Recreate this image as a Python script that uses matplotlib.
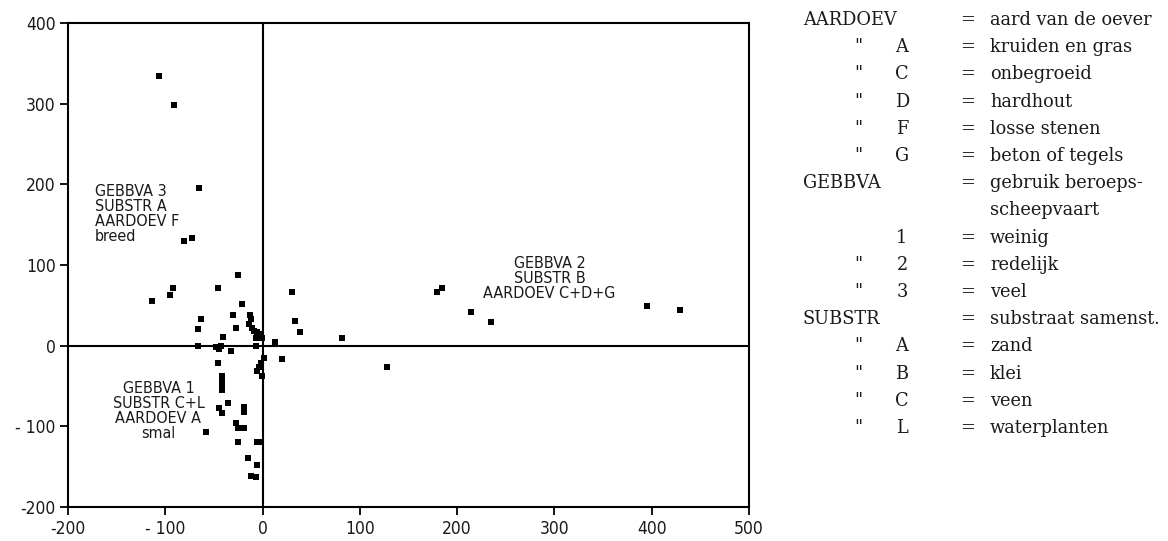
import matplotlib.pyplot as plt

# ordination scores of the sampled sites
x_scores = [-106, -91, -65, -81, -73,
            -114, -95, -92, -25, -46, 30, -21, -30,
            -13, -12, -14, -11, -9, -6, -4,
            -63, -66, -27, 33, 38, -7, -1, -41, 13,
            -66, -48, -43, -45, -7, -32,
            1, -2, -4, -6, 20, -46, -1,
            82, 128, 179, 184, 214, 235, 395, 429,
            -42, -42, -42, -42, -36, -45, -42, -19, -19,
            -58, -27, -25, -19, -25, -6, -3, -15, -6, -12, -7]
y_scores = [334, 298, 196, 130, 134,
            55, 63, 71, 88, 71, 67, 52, 38,
            38, 33, 27, 22, 18, 17, 15,
            33, 21, 22, 31, 17, 9, 10, 11, 4,
            0, -2, 0, -4, -1, -7,
            -15, -21, -27, -31, -17, -21, -38,
            9, -27, 67, 71, 42, 29, 49, 44,
            -37, -43, -49, -55, -71, -77, -83, -76, -82,
            -107, -96, -102, -102, -119, -120, -119, -139, -148, -162, -163]

x_ticks = [-200, -100, 0, 100, 200, 300, 400, 500]
x_ticklabels = ["-200", "- 100", "0", "100", "200", "300", "400", "500"]
y_ticks = [-200, -100, 0, 100, 200, 300, 400]
y_ticklabels = ["-200", "- 100", "0", "100", "200", "300", "400"]

# group labels inside the plot
groups = [
    ("GEBBVA 3\nSUBSTR A\nAARDOEV F\nbreed", -172, 200, "left"),
    ("GEBBVA 1\nSUBSTR C+L\nAARDOEV A\nsmal", -107, -44, "center"),
    ("GEBBVA 2\nSUBSTR B\nAARDOEV C+D+G", 295, 111, "center"),
]

# code list shown to the right of the plot
key_names = ["AARDOEV", "", "", "", "", "", "GEBBVA", "", "", "", "",
             "SUBSTR", "", "", "", ""]
key_ditto = ["", '"', '"', '"', '"', '"', "", "", "", '"', '"',
             "", '"', '"', '"', '"']
key_codes = ["", "A", "C", "D", "F", "G", "", "", "1", "2", "3",
             "", "A", "B", "C", "L"]
key_equals = ["=", "=", "=", "=", "=", "=", "=", "", "=", "=", "=",
              "=", "=", "=", "=", "="]
key_text = ["aard van de oever", "kruiden en gras", "onbegroeid", "hardhout",
            "losse stenen", "beton of tegels", "gebruik beroeps-",
            "scheepvaart", "weinig", "redelijk", "veel",
            "substraat samenst.", "zand", "klei", "veen", "waterplanten"]

W, H = 1168, 541
narrow = ["Liberation Sans Narrow", "DejaVu Sans"]

fig = plt.figure(figsize=(W / 100, H / 100), dpi=100)
ax = fig.add_axes([68 / W, 1 - 507 / H, 681 / W, 484 / H])

ax.scatter(x_scores, y_scores, marker="s", s=22, color="black",
           linewidths=0, zorder=3)
ax.axhline(0, color="black", lw=1.5, zorder=2)
ax.axvline(0, color="black", lw=1.5, zorder=2)

for label, gx, gy, ha in groups:
    ax.text(gx, gy, label, ha=ha, va="top", fontsize=11.5,
            family=narrow, stretch="condensed", linespacing=1.0,
            color="#1a1a1a")

ax.set_xlim(-200, 500)
ax.set_ylim(-200, 400)
ax.set_xticks(x_ticks)
ax.set_xticklabels(x_ticklabels)
ax.set_yticks(y_ticks)
ax.set_yticklabels(y_ticklabels)
ax.tick_params(direction="out", length=6, width=1.3, pad=3,
               labelsize=12.5, colors="black")
for lab in ax.get_xticklabels() + ax.get_yticklabels():
    lab.set_family(narrow)
    lab.set_stretch("condensed")
    lab.set_color("#1a1a1a")
for sp in ax.spines.values():
    sp.set_linewidth(1.5)

# code list columns
row_y0, row_dy = 20, 27.2
for i in range(len(key_text)):
    yy = 1 - (row_y0 + i * row_dy) / H
    kw = dict(va="center", fontsize=12.8, family="DejaVu Serif",
              color="#1a1a1a")
    if key_names[i]:
        fig.text(803 / W, yy, key_names[i], ha="left", **kw)
    if key_ditto[i]:
        fig.text(858 / W, yy, key_ditto[i], ha="center", **kw)
    if key_codes[i]:
        fig.text(902 / W, yy, key_codes[i], ha="center", **kw)
    if key_equals[i]:
        fig.text(968 / W, yy, key_equals[i], ha="center", **kw)
    fig.text(990 / W, yy, key_text[i], ha="left", **kw)

fig.savefig("out.png", dpi=100)
